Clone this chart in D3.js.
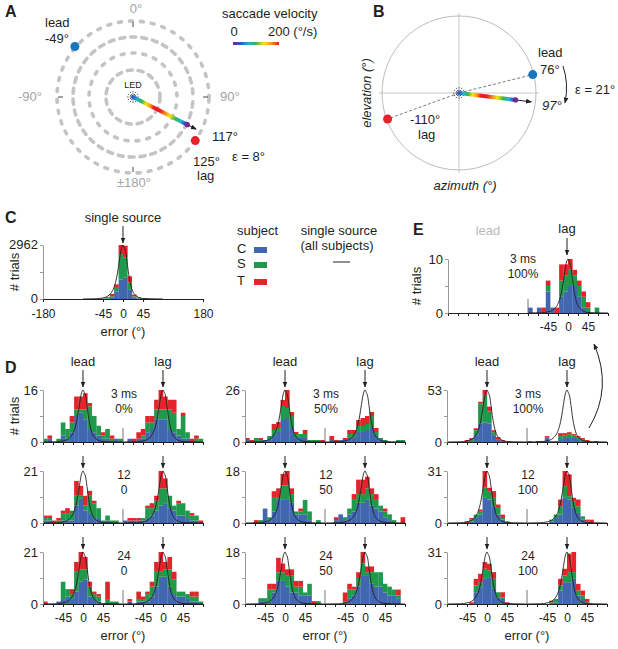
<!DOCTYPE html>
<html>
<head>
<meta charset="utf-8">
<script src="https://cdn.jsdelivr.net/npm/d3@7"></script>
<style>
  body { margin: 0; background: #fff; }
  svg { font-family: "Liberation Sans", Arial, sans-serif; }
</style>
</head>
<body>
<svg id="fig" width="618" height="649"></svg>
<script>
// ---- data ----
const subjects = ['C', 'S', 'T']
const binStarts = [-90, -80, -70, -60, -50, -40, -30, -20, -10, 0, 10, 20, 30, 40, 50, 60, 70, 80]
const binStartsC = [-60, -50, -40, -30, -20, -10, 0, 10, 20, 30, 40, 50]
const binWidth = 10

// single source, all subjects (panel C), rows = C, S, T
const singleSource = [
	[5, 10, 30, 60, 425, 1075, 1166, 500, 90, 30, 10, 5],
	[5, 10, 40, 90, 185, 1385, 1111, 400, 60, 30, 10, 5],
	[5, 10, 40, 130, 190, 502, 648, 350, 90, 30, 10, 5]
]
// single source curve shape (fraction of peak)
const singleAngles = [-90, -60, -45, -35, -28, -22, -17, -12, -8, -4, 0, 3, 6, 9, 13, 17, 22, 28, 35, 45, 60, 90]
const singleValues = [0, 0.005, 0.02, 0.05, 0.1, 0.18, 0.3, 0.5, 0.72, 0.92, 1, 0.95, 0.88, 0.7, 0.45, 0.27, 0.14, 0.07, 0.03, 0.01, 0.005, 0]

// panel D histograms (rows: subject C, S, T; 10 deg bins from -90 to 90)
const lead3ms0 = [
	[0, 1, 0, 0, 2, 1, 3, 8, 9, 7, 4, 3, 2, 1, 1, 0, 1, 0],
	[1, 0, 0, 1, 4, 3, 3, 2, 1, 3, 7, 5, 3, 1, 3, 1, 0, 1],
	[0, 1, 0, 0, 0, 0, 2, 4, 4, 5, 1, 0, 0, 1, 0, 1, 0, 0]
]
const lag3ms0 = [
	[0, 1, 0, 1, 1, 3, 4, 7, 7, 7, 4, 3, 2, 1, 1, 0, 0, 0],
	[0, 0, 0, 0, 1, 3, 2, 3, 3, 3, 6, 6, 2, 7, 2, 0, 1, 1],
	[0, 0, 1, 2, 2, 2, 2, 3, 6, 4, 3, 4, 0, 1, 0, 1, 1, 0]
]
const lead3ms50 = [
	[1, 0, 0, 0, 1, 1, 3, 5, 11, 12, 7, 2, 2, 2, 0, 0, 0, 0],
	[0, 0, 2, 1, 0, 2, 3, 2, 7, 5, 6, 2, 2, 2, 1, 1, 1, 0],
	[1, 1, 0, 1, 0, 0, 3, 3, 3, 9, 2, 1, 0, 2, 0, 0, 0, 1]
]
const lag3ms50 = [
	[0, 1, 0, 1, 1, 2, 2, 5, 5, 6, 7, 3, 1, 0, 0, 0, 0, 0],
	[0, 0, 0, 0, 0, 2, 2, 3, 3, 3, 6, 2, 1, 1, 0, 0, 1, 1],
	[0, 2, 1, 0, 1, 2, 2, 3, 4, 4, 2, 2, 0, 0, 0, 0, 0, 0]
]
const lead3ms100 = [
	[0, 0, 0, 0, 0, 1, 7, 19, 20, 19, 7, 2, 1, 0, 0, 0, 0, 0],
	[0, 0, 0, 0, 1, 2, 5, 20, 28, 12, 3, 1, 0, 0, 0, 0, 0, 0],
	[0, 0, 0, 0, 1, 1, 2, 2, 5, 5, 2, 2, 1, 0, 0, 0, 0, 0]
]
const lag3ms100 = [
	[1, 0, 1, 0, 4, 1, 0, 3, 4, 5, 5, 3, 1, 0, 0, 0, 0, 0],
	[0, 0, 0, 0, 1, 0, 0, 3, 3, 3, 2, 2, 2, 1, 0, 1, 0, 0],
	[0, 0, 0, 1, 1, 0, 1, 3, 2, 2, 1, 1, 1, 1, 0, 0, 0, 0]
]
const lead12ms0 = [
	[1, 1, 0, 0, 1, 1, 1, 7, 10, 5, 4, 2, 2, 0, 1, 0, 0, 0],
	[1, 1, 0, 1, 3, 3, 4, 4, 1, 2, 7, 6, 4, 1, 2, 1, 1, 0],
	[1, 1, 1, 1, 1, 2, 0, 6, 4, 4, 2, 1, 0, 0, 0, 0, 0, 0]
]
const lag12ms0 = [
	[1, 1, 1, 1, 1, 2, 3, 5, 7, 8, 6, 5, 3, 3, 2, 1, 1, 0],
	[0, 0, 0, 0, 1, 4, 3, 4, 7, 6, 5, 2, 5, 5, 3, 2, 2, 0],
	[0, 1, 1, 1, 0, 1, 2, 2, 7, 4, 0, 0, 1, 0, 0, 1, 0, 1]
]
const lead12ms50 = [
	[0, 0, 0, 0, 5, 1, 4, 8, 8, 8, 7, 3, 3, 3, 1, 0, 0, 0],
	[0, 0, 0, 1, 0, 1, 5, 1, 5, 5, 3, 1, 1, 5, 3, 0, 1, 0],
	[0, 0, 1, 0, 0, 0, 2, 3, 4, 5, 2, 0, 1, 0, 0, 0, 0, 0]
]
const lag12ms50 = [
	[0, 0, 1, 3, 1, 3, 4, 7, 7, 8, 6, 5, 4, 2, 1, 0, 0, 0],
	[0, 0, 0, 0, 1, 2, 4, 3, 3, 4, 4, 3, 2, 2, 2, 1, 0, 0],
	[0, 0, 1, 0, 0, 0, 2, 5, 5, 4, 2, 2, 0, 1, 0, 0, 0, 2]
]
const lead12ms100 = [
	[0, 0, 0, 0, 0, 1, 3, 5, 15, 14, 10, 5, 2, 0, 0, 0, 0, 0],
	[0, 0, 0, 0, 0, 1, 2, 2, 6, 5, 5, 4, 1, 1, 0, 0, 0, 0],
	[0, 0, 0, 0, 1, 1, 0, 1, 10, 2, 4, 2, 2, 0, 0, 0, 0, 0]
]
const lag12ms100 = [
	[0, 0, 0, 0, 0, 1, 3, 5, 15, 14, 9, 6, 2, 1, 0, 0, 0, 0],
	[0, 0, 0, 0, 0, 1, 2, 5, 7, 2, 4, 4, 2, 0, 0, 0, 0, 0],
	[0, 0, 0, 0, 0, 0, 0, 4, 9, 13, 2, 4, 0, 1, 2, 0, 0, 0]
]
const lead24ms0 = [
	[0, 0, 0, 1, 2, 3, 2, 5, 9, 10, 3, 2, 1, 0, 0, 0, 0, 0],
	[0, 0, 0, 0, 7, 3, 2, 8, 5, 4, 4, 2, 2, 0, 2, 1, 1, 0],
	[1, 0, 0, 0, 0, 0, 2, 4, 7, 5, 2, 1, 1, 0, 7, 0, 0, 0]
]
const lag24ms0 = [
	[0, 1, 0, 1, 1, 1, 3, 7, 11, 11, 7, 4, 3, 3, 2, 1, 1, 0],
	[0, 0, 0, 1, 1, 3, 4, 6, 2, 3, 7, 6, 2, 2, 2, 2, 2, 1],
	[0, 1, 0, 3, 1, 1, 2, 4, 8, 3, 5, 3, 0, 0, 0, 2, 2, 0]
]
const lead24ms50 = [
	[0, 0, 0, 1, 1, 1, 4, 8, 8, 6, 4, 4, 3, 3, 3, 0, 0, 0],
	[0, 0, 0, 1, 1, 4, 1, 3, 3, 4, 6, 2, 3, 1, 4, 0, 1, 0],
	[0, 0, 0, 0, 0, 2, 2, 5, 3, 2, 2, 2, 2, 0, 0, 1, 0, 0]
]
const lag24ms50 = [
	[0, 0, 0, 0, 0, 2, 3, 6, 10, 10, 7, 6, 6, 4, 3, 3, 2, 0],
	[0, 0, 0, 0, 1, 3, 2, 3, 4, 1, 4, 5, 5, 3, 3, 2, 1, 0],
	[0, 0, 0, 0, 3, 2, 1, 2, 4, 2, 2, 0, 0, 0, 0, 0, 2, 0]
]
const lead24ms100 = [
	[0, 0, 0, 0, 0, 0, 7, 10, 15, 16, 9, 4, 3, 0, 0, 0, 0, 0],
	[0, 0, 0, 0, 0, 0, 4, 3, 6, 4, 6, 3, 1, 0, 0, 0, 0, 0],
	[0, 0, 0, 0, 0, 1, 4, 5, 4, 4, 4, 0, 3, 1, 0, 0, 0, 0]
]
const lag24ms100 = [
	[0, 0, 0, 0, 0, 0, 1, 8, 13, 13, 15, 5, 3, 0, 0, 0, 0, 0],
	[0, 0, 0, 0, 0, 1, 2, 3, 4, 6, 4, 3, 2, 1, 0, 0, 0, 0],
	[0, 0, 0, 0, 0, 1, 0, 4, 4, 11, 12, 4, 3, 2, 0, 0, 0, 0]
]

const delayLabels = ['3 ms', '12', '24']
const ratioLabels = [['0%', '50%', '100%'], ['0', '50', '100'], ['0', '50', '100']]
const yMaxD = [[16, 26, 53], [21, 18, 31], [21, 18, 31]]
const yMaxC = 2962
const yMaxE = 10
const halfTicks = [-90, -67.5, -45, -22.5, 0, 22.5, 45, 67.5, 90]
const labelTicks = [-45, 0, 45]
const ticksC = [-180, -45, 0, 45, 180]

// polar panels (deg, clockwise from straight ahead)
const leadA = -49, lagA = 125, respA = 117, errA = 8
const leadB = 76, lagB = -110, respB = 97, errB = 21

// ---- style ----
const subjectColors = ['#4267b1', '#1f9a4c', '#e3252b']
const dotBlue = '#1b75bb', dotRed = '#e8202a'
const rainbow = ['#6a2c91', '#2b59c3', '#1fb5d5', '#39b54a', '#f4e412', '#f7941d', '#ed1c24']
const ink = '#231f20'

const svg = d3.select('#fig')
const defs = svg.append('defs')
defs.append('marker').attr('id', 'arr').attr('viewBox', '0 0 10 10')
	.attr('refX', 9).attr('refY', 5).attr('markerWidth', 6).attr('markerHeight', 6)
	.attr('markerUnits', 'userSpaceOnUse').attr('orient', 'auto')
	.append('path').attr('d', 'M0,1L10,5L0,9z').attr('fill', ink)

function txt(x, y, s, o = {}) {
	return svg.append('text').attr('x', x).attr('y', y).text(s)
		.attr('font-size', o.size || 13).attr('fill', o.fill || ink)
		.attr('text-anchor', o.anchor || 'start')
		.attr('font-style', o.italic ? 'italic' : null)
		.attr('font-weight', o.bold ? 'bold' : null)
}
function arrow(x1, y1, x2, y2) {
	svg.append('line').attr('x1', x1).attr('y1', y1).attr('x2', x2).attr('y2', y2)
		.attr('stroke', ink).attr('stroke-width', 1).attr('marker-end', 'url(#arr)')
}
function polar(cx, cy, r, deg) {
	const a = deg * Math.PI / 180
	return [cx + r * Math.sin(a), cy - r * Math.cos(a)]
}
function styleAxis(g, col) {
	g.attr('font-family', null).attr('font-size', 12)
	g.select('.domain').attr('stroke', col)
	g.selectAll('.tick line').attr('stroke', col)
	g.selectAll('.tick text').attr('fill', ink)
}

// rainbow gradients
defs.append('linearGradient').attr('id', 'cbar')
	.selectAll('stop').data(rainbow).join('stop')
	.attr('offset', (d, i) => i / (rainbow.length - 1)).attr('stop-color', d => d)

const traceStops = [[0, 1], [0.08, 2], [0.16, 3], [0.24, 4], [0.32, 5], [0.38, 6], [0.5, 6], [0.6, 5], [0.68, 4], [0.78, 3], [0.88, 2], [0.95, 1], [1, 0]]
function trace(id, cx, cy, deg, len, tipLen) {
	const [ex, ey] = polar(cx, cy, len, deg)
	const [tx, ty] = polar(cx, cy, tipLen, deg)
	defs.append('linearGradient').attr('id', id).attr('gradientUnits', 'userSpaceOnUse')
		.attr('x1', cx).attr('y1', cy).attr('x2', ex).attr('y2', ey)
		.selectAll('stop').data(traceStops).join('stop')
		.attr('offset', d => d[0]).attr('stop-color', d => rainbow[d[1]])
	arrow(cx, cy, tx, ty)
	svg.append('line').attr('x1', cx).attr('y1', cy).attr('x2', ex).attr('y2', ey)
		.attr('stroke', `url(#${id})`).attr('stroke-width', 4).attr('stroke-linecap', 'round')
	svg.append('circle').attr('cx', ex).attr('cy', ey).attr('r', 2.6).attr('fill', rainbow[0])
}
function starburst(cx, cy) {
	d3.range(0, 360, 30).forEach(a => {
		const [x1, y1] = polar(cx, cy, 2, a)
		const [x2, y2] = polar(cx, cy, 7, a)
		svg.append('line').attr('x1', x1).attr('y1', y1).attr('x2', x2).attr('y2', y2)
			.attr('stroke', ink).attr('stroke-width', 0.7).attr('stroke-dasharray', '1.5,1')
	})
}

// ---- panel A ----
const cxA = 133, cyA = 97
txt(5, 17, 'A', { size: 16, bold: true })
;[27, 44, 60, 76].forEach((r, i) => {
	svg.append('circle').attr('cx', cxA).attr('cy', cyA).attr('r', r)
		.attr('fill', 'none').attr('stroke', '#c4c4c4').attr('stroke-width', 3.6)
		.attr('stroke-linecap', 'round').attr('stroke-dasharray', i % 2 ? '3,8' : '5,6')
		.attr('stroke-dashoffset', i * 3)
})
;[0, 90, 180, 270].forEach(a => {
	const [x1, y1] = polar(cxA, cyA, 70, a)
	const [x2, y2] = polar(cxA, cyA, 75, a)
	svg.append('line').attr('x1', x1).attr('y1', y1).attr('x2', x2).attr('y2', y2)
		.attr('stroke', '#444').attr('stroke-width', 1)
})
const gray = '#a3a3a3'
txt(136, 13, '0°', { anchor: 'middle', fill: gray })
txt(42, 101, '-90°', { anchor: 'end', fill: gray })
txt(220, 101, '90°', { fill: gray })
txt(134, 187, '±180°', { anchor: 'middle', fill: gray })
starburst(cxA, cyA)
txt(133, 88, 'LED', { anchor: 'middle', size: 9 })
trace('trA', cxA, cyA, respA, 61, 71)
const [lbx, lby] = polar(cxA, cyA, 77, leadA)
svg.append('circle').attr('cx', lbx).attr('cy', lby).attr('r', 4.5).attr('fill', dotBlue)
const [lrx, lry] = polar(cxA, cyA, 76, lagA)
svg.append('circle').attr('cx', lrx).attr('cy', lry).attr('r', 4.5).attr('fill', dotRed)
txt(45, 27, 'lead')
txt(45, 43, `${leadA}°`)
txt(212, 141, `${respA}°`)
txt(232, 161, `ε = ${errA}°`)
txt(193, 166, `${lagA}°`)
txt(197, 180, 'lag')

// velocity colour bar
txt(222, 18, 'saccade velocity')
txt(234, 36, '0', { anchor: 'middle' })
txt(268, 36, '200 (°/s)')
svg.append('rect').attr('x', 233).attr('y', 42).attr('width', 46).attr('height', 3).attr('fill', 'url(#cbar)')

// ---- panel B ----
const cxB = 459, cyB = 93, rB = 77
txt(373, 17, 'B', { size: 16, bold: true })
svg.append('circle').attr('cx', cxB).attr('cy', cyB).attr('r', rB)
	.attr('fill', 'none').attr('stroke', '#aaa').attr('stroke-width', 0.8)
svg.append('line').attr('x1', cxB - rB - 3).attr('x2', cxB + rB + 3).attr('y1', cyB).attr('y2', cyB)
	.attr('stroke', '#bbb').attr('stroke-width', 0.8)
svg.append('line').attr('x1', cxB).attr('x2', cxB).attr('y1', cyB - rB - 3).attr('y2', cyB + rB + 3)
	.attr('stroke', '#bbb').attr('stroke-width', 0.8)
const [bbx, bby] = polar(cxB, cyB, 76, leadB)
const [brx, bry] = polar(cxB, cyB, 76, lagB)
;[[bbx, bby], [brx, bry]].forEach(([x, y]) => {
	svg.append('line').attr('x1', cxB).attr('y1', cyB).attr('x2', x).attr('y2', y)
		.attr('stroke', '#555').attr('stroke-width', 0.8).attr('stroke-dasharray', '3,2')
})
starburst(cxB, cyB)
trace('trB', cxB, cyB, respB, 57, 73)
svg.append('circle').attr('cx', bbx).attr('cy', bby).attr('r', 4.5).attr('fill', dotBlue)
svg.append('circle').attr('cx', brx).attr('cy', bry).attr('r', 4.5).attr('fill', dotRed)
txt(538, 57, 'lead')
txt(540, 74, `${leadB}°`)
txt(542, 110, `${respB}°`, { italic: true })
txt(575, 94, `ε = ${errB}°`)
txt(410, 124, `${lagB}°`)
txt(418, 139, 'lag')
txt(465, 190, 'azimuth (°)', { anchor: 'middle', italic: true })
txt(0, 0, 'elevation (°)', { anchor: 'middle', italic: true })
	.attr('transform', `translate(371,${cyB}) rotate(-90)`)
svg.append('path').attr('d', 'M563,66 Q569,84 565,103').attr('fill', 'none')
	.attr('stroke', ink).attr('marker-end', 'url(#arr)')

// ---- histogram helper ----
function drawHist(x0, top, h, yMax, halves, labels, curveOn) {
	const g = svg.append('g')
	const y = d3.scaleLinear().domain([0, yMax]).range([top + h, top])
	halves.forEach((half, k) => {
		const x = d3.scaleLinear().domain([-90, 90]).range([x0 + 80 * k, x0 + 80 * (k + 1)])
		if (half) {
			const rows = binStarts.map((b, i) => ({ b, C: half[0][i], S: half[1][i], T: half[2][i] }))
			d3.stack().keys(subjects)(rows).forEach((s, j) => {
				g.append('g').attr('fill', subjectColors[j]).selectAll('rect').data(s).join('rect')
					.attr('x', d => x(d.data.b)).attr('width', x(binWidth) - x(0) + 0.2)
					.attr('y', d => y(d[1])).attr('height', d => y(d[0]) - y(d[1]))
			})
		}
		if (curveOn[k]) {
			g.append('path').datum(singleAngles)
				.attr('d', d3.line().x(a => x(a)).y((a, i) => y(singleValues[i] * yMax)).curve(d3.curveMonotoneX))
				.attr('fill', 'none').attr('stroke', ink).attr('stroke-width', 0.9)
		}
		const ax = g.append('g').attr('transform', `translate(0,${top + h})`)
			.call(d3.axisBottom(x).tickValues(halfTicks).tickSize(3).tickSizeOuter(0).tickPadding(6)
				.tickFormat(d => labels[k] && labelTicks.includes(d) ? String(d) : ''))
		styleAxis(ax, ink)
	})
	g.append('line').attr('x1', x0 + 80).attr('x2', x0 + 80).attr('y1', top + h).attr('y2', top + h - 14)
		.attr('stroke', '#777').attr('stroke-width', 1)
	const ay = g.append('g').attr('transform', `translate(${x0},0)`)
		.call(d3.axisLeft(y).tickValues([0, yMax / 2, yMax]).tickSize(3).tickSizeOuter(0).tickPadding(2)
			.tickFormat(d => d === yMax / 2 ? '' : String(d)))
	styleAxis(ay, '#999')
	ay.selectAll('.tick text').attr('font-size', 13)
}

// ---- panel C ----
txt(5, 223, 'C', { size: 16, bold: true })
{
	const x = d3.scaleLinear().domain([-180, 180]).range([43, 203])
	const y = d3.scaleLinear().domain([0, yMaxC]).range([299, 245])
	const rows = binStartsC.map((b, i) => ({ b, C: singleSource[0][i], S: singleSource[1][i], T: singleSource[2][i] }))
	d3.stack().keys(subjects)(rows).forEach((s, j) => {
		svg.append('g').attr('fill', subjectColors[j]).selectAll('rect').data(s).join('rect')
			.attr('x', d => x(d.data.b)).attr('width', x(binWidth) - x(0) + 0.2)
			.attr('y', d => y(d[1])).attr('height', d => y(d[0]) - y(d[1]))
	})
	svg.append('path').datum(singleAngles)
		.attr('d', d3.line().x(a => x(a)).y((a, i) => y(singleValues[i] * yMaxC)).curve(d3.curveMonotoneX))
		.attr('fill', 'none').attr('stroke', ink).attr('stroke-width', 0.9)
	const ax = svg.append('g').attr('transform', 'translate(0,299)')
		.call(d3.axisBottom(x).tickValues(ticksC).tickSize(3).tickSizeOuter(0).tickPadding(7).tickFormat(d => String(d)))
	styleAxis(ax, ink)
	const ay = svg.append('g').attr('transform', 'translate(43,0)')
		.call(d3.axisLeft(y).tickValues([0, yMaxC / 2, yMaxC]).tickSize(3).tickSizeOuter(0).tickPadding(2)
			.tickFormat(d => d === yMaxC / 2 ? '' : String(d)))
	styleAxis(ay, '#999')
	ay.selectAll('.tick text').attr('font-size', 13).attr('dy', '0.28em')
}
txt(123, 222, 'single source', { anchor: 'middle' })
arrow(123, 226, 123, 243)
txt(123, 336, 'error (°)', { anchor: 'middle' })
txt(0, 0, '# trials', { anchor: 'middle' }).attr('transform', 'translate(19,272) rotate(-90)')

// legend
txt(237, 235, 'subject')
subjects.forEach((s, i) => {
	const by = [253, 268, 285][i]
	txt(237, by, s)
	svg.append('rect').attr('x', 254).attr('y', by - 6).attr('width', 13).attr('height', 6).attr('fill', subjectColors[i])
})
txt(339, 235, 'single source', { anchor: 'middle' })
txt(337, 250, '(all subjects)', { anchor: 'middle' })
svg.append('line').attr('x1', 333).attr('x2', 350).attr('y1', 262).attr('y2', 262).attr('stroke', ink)

// ---- panel E ----
txt(413, 235, 'E', { size: 16, bold: true })
drawHist(448, 259, 54, yMaxE, [null, lag3ms100], [false, true], [false, true])
txt(488, 235, 'lead', { anchor: 'middle', fill: '#bbb' })
txt(567, 233, 'lag', { anchor: 'middle' })
arrow(567, 238, 567, 255)
txt(523, 263, delayLabels[0], { anchor: 'middle', size: 12 })
txt(523, 278, ratioLabels[0][2], { anchor: 'middle', size: 12 })
txt(0, 0, '# trials', { anchor: 'middle' }).attr('transform', 'translate(421,286) rotate(-90)')

// ---- panel D ----
txt(5, 373, 'D', { size: 16, bold: true })
const dPanels = [
	[[lead3ms0, lag3ms0], [lead3ms50, lag3ms50], [lead3ms100, lag3ms100]],
	[[lead12ms0, lag12ms0], [lead12ms50, lag12ms50], [lead12ms100, lag12ms100]],
	[[lead24ms0, lag24ms0], [lead24ms50, lag24ms50], [lead24ms100, lag24ms100]]
]
const colX = [43, 245, 447]
const rowTop = [390, 471, 552]
dPanels.forEach((row, r) => {
	row.forEach((halves, c) => {
		const x0 = colX[c], top = rowTop[r]
		drawHist(x0, top, 52, yMaxD[r][c], halves, [r === 2, r === 2], [true, true])
		txt(x0 + 81, top + 8, delayLabels[r], { anchor: 'middle', size: 12 })
		txt(x0 + 81, top + 23, ratioLabels[r][c], { anchor: 'middle', size: 12 })
		;[40, 120].forEach((dx, k) => {
			if (r === 0) {
				txt(x0 + dx, 366, k ? 'lag' : 'lead', { anchor: 'middle' })
				arrow(x0 + dx, 370, x0 + dx, top - 3)
			} else {
				arrow(x0 + dx, top - 15, x0 + dx, top - 3)
			}
		})
		if (r === 2) txt(x0 + 80, 640, 'error (°)', { anchor: 'middle' })
	})
})
txt(0, 0, '# trials', { anchor: 'middle' }).attr('transform', 'translate(19,416) rotate(-90)')

// arrow from D (3 ms, 100%) lag up to E
svg.append('path').attr('d', 'M589,428 Q613,388 594,344').attr('fill', 'none')
	.attr('stroke', ink).attr('stroke-width', 1).attr('marker-end', 'url(#arr)')
</script>
</body>
</html>
